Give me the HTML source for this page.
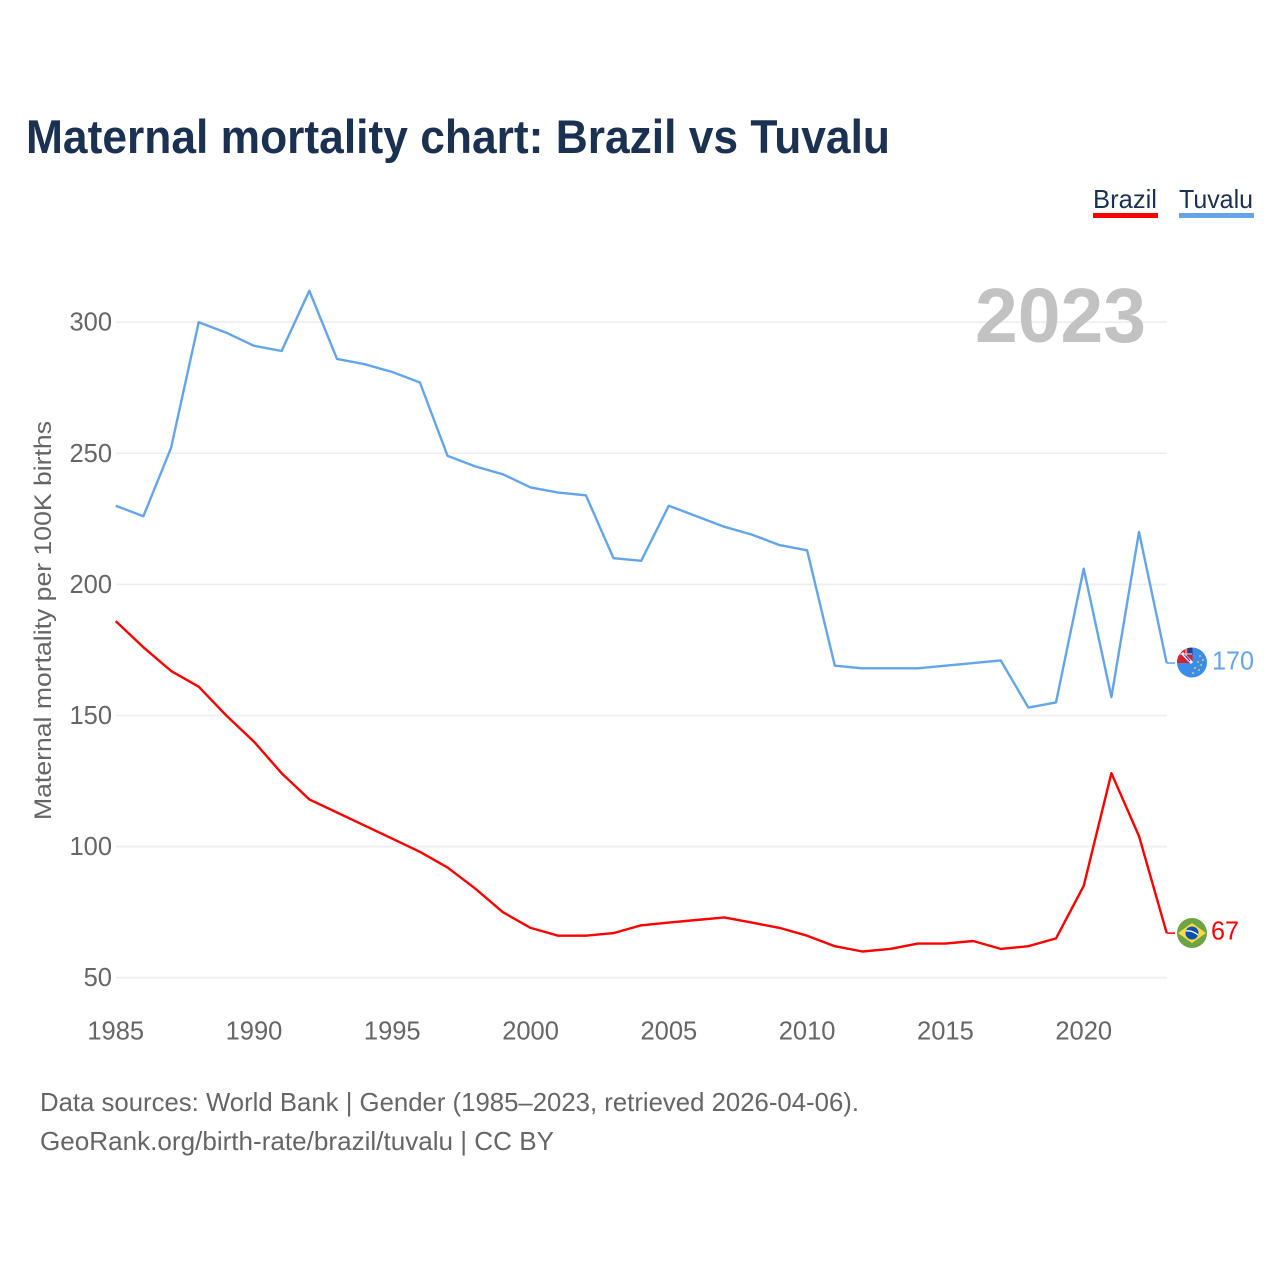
<!DOCTYPE html>
<html lang="en">
<head>
<meta charset="utf-8">
<title>Maternal mortality chart: Brazil vs Tuvalu</title>
<style>
html,body{margin:0;padding:0;background:#fff;}
svg{display:block;font-family:"Liberation Sans",sans-serif;}
</style>
</head>
<body>
<svg id="chart" xmlns="http://www.w3.org/2000/svg" width="1280" height="1280" viewBox="0 0 1280 1280">
  <rect x="0" y="0" width="1280" height="1280" fill="#ffffff"/>
  <text x="26" y="153" font-size="47" font-weight="700" fill="#1a3152" textLength="864" lengthAdjust="spacingAndGlyphs">Maternal mortality chart: Brazil vs Tuvalu</text>
  <g id="grid"></g>
  <g id="yticks"></g>
  <g id="xticks"></g>
  <text x="975" y="342" font-size="77" font-weight="700" fill="#c2c2c2" textLength="171" lengthAdjust="spacingAndGlyphs">2023</text>
  <text transform="translate(51,820) rotate(-90)" font-size="24" fill="#666666" textLength="399" lengthAdjust="spacingAndGlyphs">Maternal mortality per 100K births</text>
  <g id="series"></g>

  <g>
    <text x="1093" y="208" font-size="26" fill="#1a3152" textLength="64" lengthAdjust="spacingAndGlyphs">Brazil</text>
    <rect x="1093" y="213" width="65" height="5" fill="#ff0000"/>
  </g>
  <g>
    <text x="1179" y="208" font-size="26" fill="#1a3152" textLength="74" lengthAdjust="spacingAndGlyphs">Tuvalu</text>
    <rect x="1179" y="213" width="75" height="5" fill="#63a5ec"/>
  </g>

  <defs>
    <clipPath id="clip-tv"><circle cx="1192" cy="662.5" r="15"/></clipPath>
    <clipPath id="clip-br"><circle cx="1192" cy="933" r="15"/></clipPath>
  </defs>
  <g clip-path="url(#clip-tv)">
    <rect x="1177" y="647" width="30" height="31" fill="#3a8eea"/>
    <rect x="1177" y="647" width="15.5" height="16" fill="#d81e34"/>
    <path d="M1182 653 L1192 663" stroke="#ffffff" stroke-width="3"/>
    <path d="M1184 654 L1190 661" stroke="#27408b" stroke-width="1.2"/>
    <rect x="1188" y="648" width="4.5" height="7" fill="#27408b"/>
    <path d="M1178 654 H1192 M1186 648 V656" stroke="#ffffff" stroke-width="1.2" opacity="0.7"/>
    <g fill="#d8c860">
      <circle cx="1200" cy="656" r="1"/><circle cx="1203" cy="660" r="1"/><circle cx="1198" cy="662" r="1"/>
      <circle cx="1201" cy="665" r="1"/><circle cx="1195" cy="668" r="1"/><circle cx="1199" cy="670" r="1"/>
      <circle cx="1193" cy="673" r="1"/>
    </g>
  </g>
  <g clip-path="url(#clip-br)">
    <rect x="1177" y="918" width="30" height="30" fill="#6da544"/>
    <polygon points="1192,923 1206,933 1192,943 1178,933" fill="#ffda44"/>
    <circle cx="1192" cy="933" r="6.5" fill="#0052b4"/>
    <path d="M1186 931 Q1192 930 1198 935" stroke="#ffffff" stroke-width="1.3" fill="none"/>
  </g>
  <text id="tvLabel" x="1212" y="669.5" font-size="25.5" fill="#63a5ec" textLength="42" lengthAdjust="spacingAndGlyphs"></text>
  <text id="brLabel" x="1211" y="939.5" font-size="25.5" fill="#ff0000" textLength="28" lengthAdjust="spacingAndGlyphs"></text>

  <text x="40" y="1111" font-size="26" fill="#666666" textLength="819" lengthAdjust="spacingAndGlyphs">Data sources: World Bank | Gender (1985–2023, retrieved 2026-04-06).</text>
  <text x="40" y="1150" font-size="26" fill="#666666" textLength="514" lengthAdjust="spacingAndGlyphs">GeoRank.org/birth-rate/brazil/tuvalu | CC BY</text>
</svg>
<script>
var years = [1985,1986,1987,1988,1989,1990,1991,1992,1993,1994,1995,1996,1997,1998,1999,2000,2001,2002,2003,2004,2005,2006,2007,2008,2009,2010,2011,2012,2013,2014,2015,2016,2017,2018,2019,2020,2021,2022,2023];
var brazil = [186,176,167,161,150,140,128,118,113,108,103,98,92,84,75,69,66,66,67,70,71,72,73,71,69,66,62,60,61,63,63,64,61,62,65,85,128,104,67];
var tuvalu = [230,226,252,300,296,291,289,312,286,284,281,277,249,245,242,237,235,234,210,209,230,226,222,219,215,213,169,168,168,168,169,170,171,153,155,206,157,220,170];
var yTicks = [50,100,150,200,250,300];
var xTicks = [1985,1990,1995,2000,2005,2010,2015,2020];

var NS = 'http://www.w3.org/2000/svg';
function xScale(year){ return 115.7 + (year - 1985) * (1083.7 - 115.7) / 35; }
function yScale(v){ return 977.7 - (v - 50) * (977.7 - 322.2) / 250; }
function make(tag, attrs, parent){
  var el = document.createElementNS(NS, tag);
  for (var k in attrs) el.setAttribute(k, attrs[k]);
  parent.appendChild(el);
  return el;
}
var gridG = document.getElementById('grid');
var yG = document.getElementById('yticks');
var xG = document.getElementById('xticks');
var seriesG = document.getElementById('series');

yTicks.forEach(function(v){
  var line = make('line', {x1:116, x2:1167, y1:yScale(v), y2:yScale(v), stroke:'#eeeeee', 'stroke-width':1.6}, gridG);
  
  
  var t = make('text', {x:112, y:yScale(v)+8.5, 'text-anchor':'end', 'font-size':25.5, fill:'#666666'}, yG);
  t.textContent = v;
  
  
});
xTicks.forEach(function(y){
  var t = make('text', {x:xScale(y), y:1039.5, 'text-anchor':'middle', 'font-size':25.5, fill:'#666666'}, xG);
  t.textContent = y;
  
  
});
function drawSeries(name, values, color){
  var pts = values.map(function(v,i){ return xScale(years[i]).toFixed(1) + ',' + yScale(v).toFixed(1); });
  var last = values[values.length-1];
  var line = make('polyline', {points:pts.join(' '), fill:'none', stroke:color, 'stroke-width':2.4, 'stroke-linejoin':'round'}, seriesG);
  
  
  var conn = make('line', {x1:xScale(years[years.length-1]), x2:1175, y1:yScale(last), y2:yScale(last), stroke:color, 'stroke-width':1.5}, seriesG);
  
  
}
drawSeries('tuvalu', tuvalu, '#63a5ec');
drawSeries('brazil', brazil, '#ff0000');
document.getElementById('tvLabel').textContent = tuvalu[tuvalu.length-1];
document.getElementById('brLabel').textContent = brazil[brazil.length-1];
</script>
</body>
</html>
